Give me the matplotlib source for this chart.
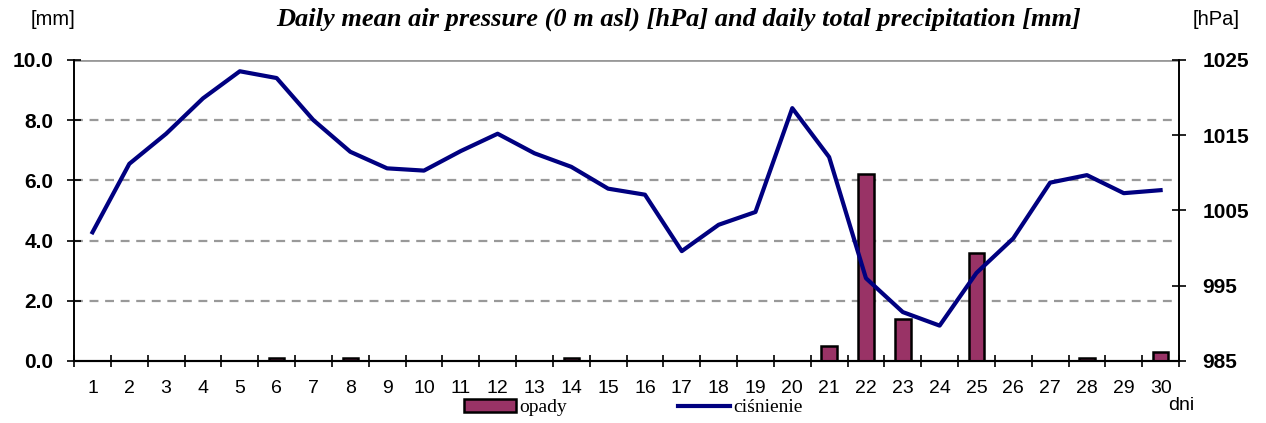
import numpy as np
import matplotlib.pyplot as plt
from matplotlib.patches import Patch
from matplotlib.lines import Line2D

# data
days = list(range(1, 31))
opady = [0, 0, 0, 0, 0, 0.1, 0, 0.1, 0, 0,
         0, 0, 0, 0.1, 0, 0, 0, 0, 0, 0,
         0.5, 6.2, 1.4, 0, 3.6, 0, 0, 0.1, 0, 0.3]
cisnienie = [1002.1, 1011.2, 1015.2, 1019.9, 1023.5, 1022.6, 1017.0, 1012.8, 1010.6, 1010.3,
             1012.9, 1015.2, 1012.6, 1010.8, 1007.9, 1007.1, 999.6, 1003.1, 1004.8, 1018.6,
             1012.1, 996.0, 991.5, 989.7, 996.7, 1001.3, 1008.7, 1009.7, 1007.3, 1007.7]
mm_ticks = [0, 2, 4, 6, 8, 10]
hpa_ticks = [985, 995, 1005, 1015, 1025]

plt.rcParams['font.family'] = ['Liberation Sans', 'DejaVu Sans']

fig = plt.figure(figsize=(12.66, 4.23), dpi=100)
ax = fig.add_axes([0.0585, 0.1466, 0.8728, 0.7116])
ax2 = ax.twinx()

# bars on the left axis
ax.bar(days, opady, width=0.42, color='#993366', edgecolor='black', linewidth=1.8, zorder=3)
ax.set_xlim(0.5, 30.5)
ax.set_ylim(0, 10)

# grid lines
for v in mm_ticks[1:-1]:
    ax.axhline(v, color='#999999', linestyle=(0, (4, 3)), linewidth=1.6, zorder=1)
ax.axhline(10, color='#999999', linewidth=2, zorder=1)

ax.set_yticks(mm_ticks)
ax.set_yticklabels([f"{v:.1f}" for v in mm_ticks], fontsize=15, fontweight='bold')
ax.set_xticks(days)
ax.set_xticklabels([str(d) for d in days], fontsize=14)
ax.set_xticks(np.arange(0.5, 31, 1), minor=True)
ax.tick_params(axis='x', which='major', length=0, pad=14)
ax.tick_params(axis='x', which='minor', direction='inout', length=9, width=1.2)
ax.tick_params(axis='y', direction='inout', length=10, width=1.2, pad=10)

# pressure line on the right axis
ax2.plot(days, cisnienie, color='#000080', linewidth=3, zorder=4)
ax2.set_ylim(985, 1025)
ax2.set_yticks(hpa_ticks)
ax2.set_yticklabels([str(v) for v in hpa_ticks], fontsize=15, fontweight='bold')
ax2.tick_params(axis='y', direction='inout', length=10, width=1.2, pad=12)

for a in (ax, ax2):
    a.spines['top'].set_visible(False)
    a.spines['left'].set_linewidth(1.2)
    a.spines['right'].set_linewidth(1.2)
    a.spines['bottom'].set_linewidth(1.5)
ax.set_zorder(ax2.get_zorder() - 1)
ax2.patch.set_visible(False)

fig.text(0.536, 0.955, "Daily mean air pressure (0 m asl) [hPa] and daily total precipitation [mm]",
         ha='center', va='center', fontsize=19, fontweight='bold', fontstyle='italic',
         family='Liberation Serif')
fig.text(31 / 1266, 0.955, "[mm]", ha='left', va='center', fontsize=14.5)
fig.text(1240 / 1266, 0.955, "[hPa]", ha='right', va='center', fontsize=14.5)
fig.text(0.933, 0.042, "dni", ha='center', va='center', fontsize=14)

handles = [Patch(facecolor='#993366', edgecolor='black', linewidth=1.8),
           Line2D([], [], color='#000080', linewidth=3)]
fig.legend(handles, ['opady', 'ciśnienie'], loc='center', bbox_to_anchor=(0.5, 0.036),
           ncol=2, frameon=False, handlelength=2.7, handleheight=0.6, handletextpad=0.15,
           columnspacing=5.7, borderpad=0, prop={'family': 'Liberation Serif', 'size': 14})

fig.savefig('out.png', dpi=100)
